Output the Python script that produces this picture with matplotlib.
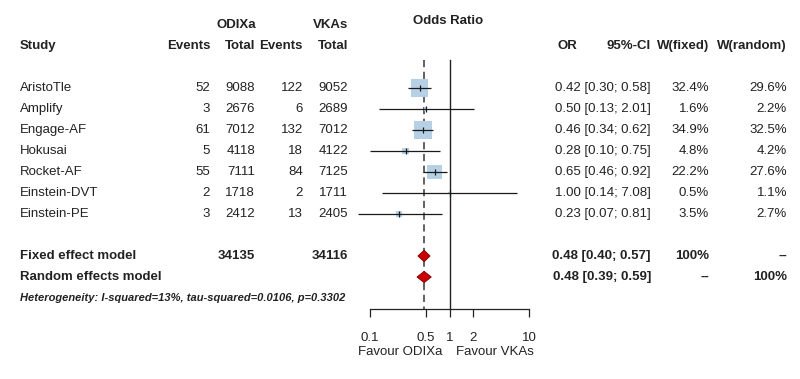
import numpy as np
import matplotlib
matplotlib.use("Agg")
import matplotlib.pyplot as plt

plt.rcParams["font.family"] = ["Liberation Sans", "DejaVu Sans"]

# study data
studies = ["AristoTle", "Amplify", "Engage-AF", "Hokusai", "Rocket-AF",
           "Einstein-DVT", "Einstein-PE"]
ev_odixa = [52, 3, 61, 5, 55, 2, 3]
tot_odixa = [9088, 2676, 7012, 4118, 7111, 1718, 2412]
ev_vka = [122, 6, 132, 18, 84, 2, 13]
tot_vka = [9052, 2689, 7012, 4122, 7125, 1711, 2405]
odds = [0.42, 0.50, 0.46, 0.28, 0.65, 1.00, 0.23]
ci_lo = [0.30, 0.13, 0.34, 0.10, 0.46, 0.14, 0.07]
ci_hi = [0.58, 2.01, 0.62, 0.75, 0.92, 7.08, 0.81]
w_fixed = [32.4, 1.6, 34.9, 4.8, 22.2, 0.5, 3.5]
w_random = [29.6, 2.2, 32.5, 4.2, 27.6, 1.1, 2.7]

# pooled estimates
pooled_names = ["Fixed effect model", "Random effects model"]
pooled_or = [0.48, 0.48]
pooled_lo = [0.40, 0.39]
pooled_hi = [0.57, 0.59]
pooled_wf = ["100%", "--"]
pooled_wr = ["--", "100%"]
pooled_tot = [34135, 34116]

hetero = "Heterogeneity: I-squared=13%, tau-squared=0.0106, p=0.3302"
ticks = [0.1, 0.5, 1, 2, 10]

DPI = 100
W, H = 800, 379
fs = 9.5
txt = "#222222"

fig = plt.figure(figsize=(W / DPI, H / DPI), dpi=DPI)

# row layout: study rows 0..6, pooled rows 8,9
rows = np.arange(len(studies))
prow = [8, 9]
ylim = ((H - 88) / 21, -88 / 21)

# table layer (x in pixels, y in rows)
tab = fig.add_axes([0, 0, 1, 1])
tab.set_xlim(0, W)
tab.set_ylim(*ylim)
tab.axis("off")

bold = dict(fontsize=fs, fontweight="bold", color=txt, va="center")
norm = dict(fontsize=fs, color=txt, va="center")

tab.text(20, -2, "Study", ha="left", **bold)
tab.text(256, -3, "ODIXa", ha="right", **bold)
tab.text(348, -3, "VKAs", ha="right", **bold)
for x, lab in zip([210, 255, 303, 348], ["Events", "Total", "Events", "Total"]):
    tab.text(x, -2, lab, ha="right", **bold)
tab.text(448, -3.2, "Odds Ratio", ha="center", **bold)
for x, lab in zip([577, 651, 709, 787], ["OR", "95%-CI", "W(fixed)", "W(random)"]):
    tab.text(x, -2, lab, ha="right", **bold)

for i, name in enumerate(studies):
    tab.text(20, rows[i], name, ha="left", **norm)
    tab.text(210, rows[i], str(ev_odixa[i]), ha="right", **norm)
    tab.text(255, rows[i], str(tot_odixa[i]), ha="right", **norm)
    tab.text(303, rows[i], str(ev_vka[i]), ha="right", **norm)
    tab.text(348, rows[i], str(tot_vka[i]), ha="right", **norm)
    tab.text(651, rows[i], f"{odds[i]:.2f} [{ci_lo[i]:.2f}; {ci_hi[i]:.2f}]",
             ha="right", **norm)
    tab.text(709, rows[i], f"{w_fixed[i]:.1f}%", ha="right", **norm)
    tab.text(787, rows[i], f"{w_random[i]:.1f}%", ha="right", **norm)

for j, name in enumerate(pooled_names):
    tab.text(20, prow[j], name, ha="left", **bold)
    tab.text(651, prow[j], f"{pooled_or[j]:.2f} [{pooled_lo[j]:.2f}; {pooled_hi[j]:.2f}]",
             ha="right", **bold)
    tab.text(709, prow[j], pooled_wf[j], ha="right", **bold)
    tab.text(787, prow[j], pooled_wr[j], ha="right", **bold)
tab.text(255, prow[0], str(pooled_tot[0]), ha="right", **bold)
tab.text(348, prow[0], str(pooled_tot[1]), ha="right", **bold)

tab.text(20, 10, hetero, ha="left", va="center", fontsize=8.0,
         fontweight="bold", fontstyle="italic", color=txt)

# forest layer (log x, same rows)
ax = fig.add_axes([370 / W, 0, (529 - 370) / W, 1])
ax.patch.set_visible(False)
ax.set_xscale("log")
ax.set_xlim(0.1, 10)
ax.set_ylim(*ylim)

axis_row = 10.5
top_row = (60 - 88) / 21
ax.plot([1, 1], [top_row, axis_row], color="#222222", lw=1.0, zorder=2)
ax.plot([pooled_or[0]] * 2, [top_row, axis_row], color="#555555", lw=1.3,
        ls=(0, (4, 2.5)), zorder=1)

side = 18 * np.sqrt(np.array(w_fixed) / 34.9) * 72 / DPI
ax.scatter(odds, rows, s=side ** 2, marker="s", color="#b6d1e5",
           linewidths=0, zorder=3, clip_on=False)
ax.hlines(rows, ci_lo, ci_hi, color="#1a1a1a", lw=0.9, zorder=4, clip_on=False)
ax.plot(odds, rows, ls="none", marker="|", ms=5, mew=0.9, color="#1a1a1a",
        zorder=5, clip_on=False)

for j in range(2):
    ax.fill([pooled_lo[j], pooled_or[j], pooled_hi[j], pooled_or[j]],
            [prow[j], prow[j] - 0.27, prow[j], prow[j] + 0.27],
            facecolor="#cc0000", edgecolor="#7a0000", lw=0.6, zorder=6)

for s in ["top", "left", "right"]:
    ax.spines[s].set_visible(False)
ax.spines["bottom"].set_position(("data", axis_row))
ax.spines["bottom"].set_color("#222222")
ax.spines["bottom"].set_linewidth(0.9)
ax.set_yticks([])
ax.set_xticks(ticks)
ax.set_xticklabels([f"{t:g}" for t in ticks])
ax.minorticks_off()
ax.tick_params(axis="x", direction="out", length=5.8, width=0.9,
               color="#222222", pad=11, labelsize=fs, labelcolor=txt)

ax.annotate("Favour ODIXa", xy=(1, 12.55), xytext=(-5.4, 0),
            textcoords="offset points", ha="right", va="center",
            fontsize=fs, color=txt, annotation_clip=False)
ax.annotate("Favour VKAs", xy=(1, 12.55), xytext=(4.7, 0),
            textcoords="offset points", ha="left", va="center",
            fontsize=fs, color=txt, annotation_clip=False)

fig.savefig("out.png", dpi=DPI, facecolor="white")
